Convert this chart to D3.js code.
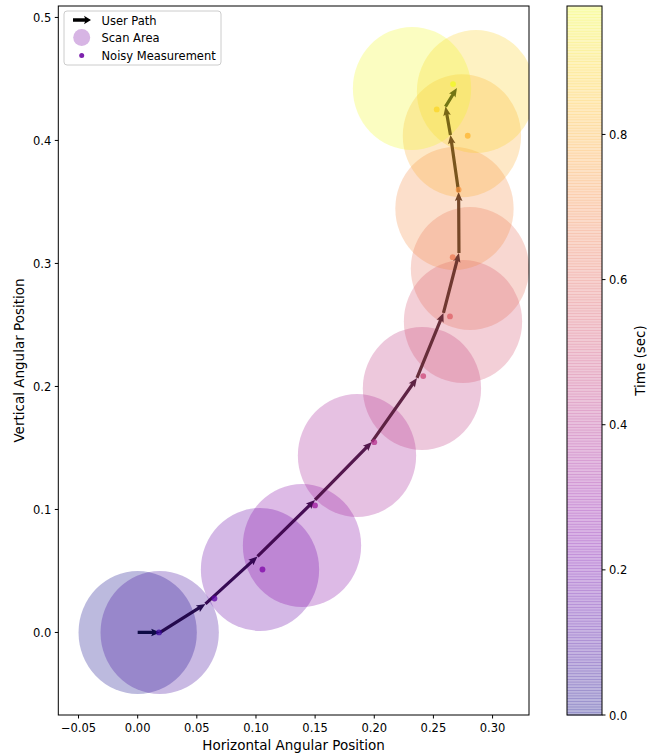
<!DOCTYPE html>
<html>
<head>
<meta charset="utf-8">
<script src="https://cdn.jsdelivr.net/npm/d3@7"></script>
<style>
  html, body { margin: 0; padding: 0; background: #fff; }
  svg { display: block; font-family: "DejaVu Sans", sans-serif; }
</style>
</head>
<body>
<div id="chart"></div>
<script>
// true user path (vertices of the arrow chain)
var pathX = [0.000, 0.019, 0.0573, 0.1013, 0.1499, 0.1980, 0.2361, 0.2585, 0.2716, 0.2713, 0.2644, 0.2602, 0.2699];
var pathY = [0.000, 0.000, 0.0232, 0.0618, 0.1077, 0.1549, 0.2069, 0.2598, 0.3085, 0.3581, 0.4045, 0.4275, 0.4427];
var pathT = [0.000, 0.081, 0.163, 0.244, 0.326, 0.407, 0.489, 0.570, 0.651, 0.733, 0.814, 0.896];

// noisy measurements
var measX = [0.0180, 0.0649, 0.1055, 0.1499, 0.2000, 0.2414, 0.2640, 0.2663, 0.2713, 0.2790, 0.2528, 0.2666];
var measY = [0.0000, 0.0276, 0.0512, 0.1033, 0.1547, 0.2084, 0.2569, 0.3051, 0.3599, 0.4038, 0.4252, 0.4458];
var measT = [0.081, 0.163, 0.244, 0.326, 0.407, 0.489, 0.570, 0.651, 0.733, 0.814, 0.896, 0.977];

// scan areas (radius in data units)
var scanX = [0.000, 0.0186, 0.1034, 0.1389, 0.1854, 0.2403, 0.2750, 0.2809, 0.2678, 0.2741, 0.2860, 0.2319];
var scanY = [0.000, 0.000, 0.0512, 0.0707, 0.1439, 0.1984, 0.2528, 0.2959, 0.3447, 0.4038, 0.4398, 0.4423];
var scanT = [0.000, 0.089, 0.178, 0.266, 0.355, 0.444, 0.533, 0.622, 0.711, 0.800, 0.888, 0.977];
var scanR = 0.05;

var xTicks = [-0.05, 0.00, 0.05, 0.10, 0.15, 0.20, 0.25, 0.30];
var yTicks = [0.0, 0.1, 0.2, 0.3, 0.4, 0.5];
var cbTicks = [0.0, 0.2, 0.4, 0.6, 0.8];
var tMax = 0.977;

var W = 647, H = 755;
var plot = { left: 58.3, right: 529, top: 6, bottom: 715 };
var cb = { left: 567, right: 602, top: 6, bottom: 715 };

var svg = d3.select("#chart").append("svg").attr("width", W).attr("height", H);

var x = d3.scaleLinear().domain([-0.0671, 0.3308]).range([plot.left, plot.right]);
var y = d3.scaleLinear().domain([-0.0671, 0.5093]).range([plot.bottom, plot.top]);
var tNorm = d3.scaleLinear().domain([0, tMax]).clamp(true);
var color = function (t) { return d3.interpolatePlasma(tNorm(t)); };
function dark(t, k) {
  var c = d3.rgb(color(t));
  return d3.rgb(c.r * k, c.g * k, c.b * k).toString();
}

svg.append("clipPath").attr("id", "clip").append("rect")
  .attr("x", plot.left).attr("y", plot.top)
  .attr("width", plot.right - plot.left).attr("height", plot.bottom - plot.top);

var g = svg.append("g").attr("clip-path", "url(#clip)");

// Scan areas
var rx = x(scanR) - x(0), ry = y(0) - y(scanR);
g.selectAll(".scan")
  .data(d3.range(scanX.length))
  .join("ellipse")
  .attr("cx", function (i) { return x(scanX[i]); })
  .attr("cy", function (i) { return y(scanY[i]); })
  .attr("rx", rx).attr("ry", ry)
  .attr("fill", function (i) { return color(scanT[i]); })
  .attr("fill-opacity", 0.28);

// quiver-style arrow polygon
function arrowPoly(x0, y0, x1, y1, w, hw, hl, ha) {
  var dx = x1 - x0, dy = y1 - y0;
  var L = Math.sqrt(dx * dx + dy * dy);
  var s = L < hl ? L / hl : 1;
  hl *= s; ha *= s; hw *= s;
  var pts = [[0, -w], [L - ha, -w], [L - hl, -hw], [L, 0], [L - hl, hw], [L - ha, w], [0, w]];
  var c = dx / L, sn = dy / L;
  return pts.map(function (p) {
    return [x0 + p[0] * c - p[1] * sn, y0 + p[0] * sn + p[1] * c];
  }).map(function (p) { return p.join(","); }).join(" ");
}

// User path
g.selectAll(".seg")
  .data(d3.range(pathX.length - 1))
  .join("polygon")
  .attr("points", function (i) {
    return arrowPoly(x(pathX[i]), y(pathY[i]), x(pathX[i + 1]), y(pathY[i + 1]), 1.6, 3.8, 9, 8);
  })
  .attr("fill", function (i) { return dark(pathT[i] * 1.09, 0.45); })
  .attr("fill-opacity", 0.95);

// Noisy measurements
g.selectAll(".meas")
  .data(d3.range(measX.length))
  .join("circle")
  .attr("cx", function (i) { return x(measX[i]); })
  .attr("cy", function (i) { return y(measY[i]); })
  .attr("r", 2.9)
  .attr("fill", function (i) { return color(measT[i]); })
  .attr("fill-opacity", 0.75);

// Axes frame
svg.append("rect")
  .attr("x", plot.left).attr("y", plot.top)
  .attr("width", plot.right - plot.left).attr("height", plot.bottom - plot.top)
  .attr("fill", "none").attr("stroke", "#000").attr("stroke-width", 1);

var fs = 11.5;
var xa = svg.append("g");
xTicks.forEach(function (v) {
  var px = x(v);
  xa.append("line").attr("x1", px).attr("x2", px).attr("y1", plot.bottom).attr("y2", plot.bottom + 3.5)
    .attr("stroke", "#000");
  xa.append("text").attr("x", px).attr("y", plot.bottom + 16.5).attr("text-anchor", "middle")
    .attr("font-size", fs).text(v < 0 ? "\u2212" + d3.format(".2f")(-v) : d3.format(".2f")(v));
});
var ya = svg.append("g");
yTicks.forEach(function (v) {
  var py = y(v);
  ya.append("line").attr("x1", plot.left - 3.5).attr("x2", plot.left).attr("y1", py).attr("y2", py)
    .attr("stroke", "#000");
  ya.append("text").attr("x", plot.left - 7).attr("y", py + 4.5).attr("text-anchor", "end")
    .attr("font-size", fs).text(d3.format(".1f")(v));
});

svg.append("text").attr("x", (plot.left + plot.right) / 2).attr("y", 750)
  .attr("text-anchor", "middle").attr("font-size", 13.5).text("Horizontal Angular Position");
svg.append("text").attr("transform", "translate(24," + (plot.top + plot.bottom) / 2 + ") rotate(-90)")
  .attr("text-anchor", "middle").attr("font-size", 13.5).text("Vertical Angular Position");

// Legend
var lg = svg.append("g");
lg.append("rect").attr("x", 64).attr("y", 11).attr("width", 157).attr("height", 54).attr("rx", 3)
  .attr("fill", "#fff").attr("fill-opacity", 0.8).attr("stroke", "#ccc");
lg.append("polygon").attr("points", arrowPoly(73, 20, 91, 20, 1.8, 4.2, 7, 6)).attr("fill", "#000");
lg.append("circle").attr("cx", 81.7).attr("cy", 37.5).attr("r", 8.5).attr("fill", "#d7b5e4");
lg.append("circle").attr("cx", 81.7).attr("cy", 55.5).attr("r", 2.5).attr("fill", "#7d22ad");
var labels = ["User Path", "Scan Area", "Noisy Measurement"];
labels.forEach(function (s, i) {
  lg.append("text").attr("x", 101.5).attr("y", 24.6 + i * 17.6).attr("font-size", fs).text(s);
});

// Colorbar
var cy = d3.scaleLinear().domain([0, tMax]).range([cb.bottom, cb.top]);
var nBands = 256;
var band = (cb.bottom - cb.top) / nBands;
var cbg = svg.append("g");
cbg.selectAll("rect")
  .data(d3.range(nBands))
  .join("rect")
  .attr("x", cb.left).attr("width", cb.right - cb.left)
  .attr("y", function (i) { return cb.bottom - (i + 1) * band; })
  .attr("height", band + 0.6)
  .attr("fill", function (i) { return d3.interpolatePlasma((i + 0.5) / nBands); })
  .attr("fill-opacity", 0.3);
cbg.append("rect").attr("x", cb.left).attr("y", cb.top)
  .attr("width", cb.right - cb.left).attr("height", cb.bottom - cb.top)
  .attr("fill", "none").attr("stroke", "#000");
cbTicks.forEach(function (v) {
  var py = cy(v);
  cbg.append("line").attr("x1", cb.right).attr("x2", cb.right + 3.5).attr("y1", py).attr("y2", py)
    .attr("stroke", "#000");
  cbg.append("text").attr("x", cb.right + 7).attr("y", py + 4.5).attr("font-size", fs)
    .text(d3.format(".1f")(v));
});
svg.append("text").attr("transform", "translate(645," + (cb.top + cb.bottom) / 2 + ") rotate(-90)")
  .attr("text-anchor", "middle").attr("font-size", 13.5).text("Time (sec)");
</script>
</body>
</html>
